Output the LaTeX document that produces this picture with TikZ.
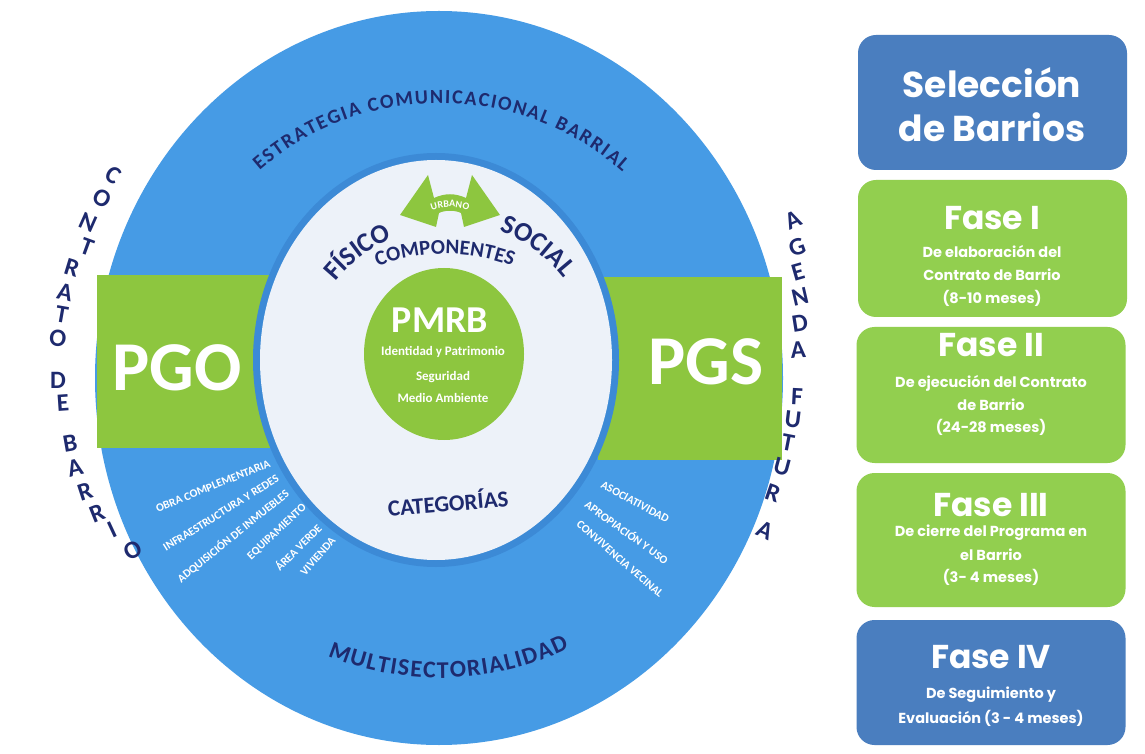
\documentclass[tikz,border=0pt]{standalone}
\usepackage{fontspec}
\setmainfont{Carlito}
\newfontfamily\popfont{Poppins}
\usetikzlibrary{decorations.text}
\definecolor{navy}{HTML}{1E2A6E}
\definecolor{mainblue}{HTML}{469BE5}
\definecolor{ringblue}{HTML}{3C8AD6}
\definecolor{pale}{HTML}{EDF2F9}
\definecolor{pgreen}{HTML}{8DC63F}
\definecolor{boxblue}{HTML}{4A7EBF}
\definecolor{boxgreen}{HTML}{92CF4F}
\newcommand\estfont{\fontsize{20}{20}\selectfont\bfseries\color{navy}}
\newcommand\multfont{\fontsize{24}{24}\selectfont\bfseries\color{navy}}
\newcommand\fisfont{\fontsize{27}{27}\selectfont\bfseries\color{navy}}
\newcommand\compfont{\fontsize{21}{21}\selectfont\bfseries\color{navy}}
\newcommand\urbfont{\fontsize{10}{10}\selectfont\bfseries\color{white}}
\begin{document}
\begin{tikzpicture}[x=1pt,y=1pt,
  sidelet/.style={text=navy, font=\fontsize{25}{25}\selectfont\bfseries, inner sep=0pt},
  listtext/.style={text=white, font=\fontsize{11.5}{11.5}\selectfont\bfseries, inner sep=0pt},
  bigtext/.style={text=white, font=\fontsize{70}{70}\selectfont\bfseries, inner sep=0pt},
  pmrbtext/.style={text=white, font=\fontsize{13}{13}\selectfont\bfseries, inner sep=0pt},
  bluebox/.style={fill=boxblue, rounded corners=18pt, minimum width=269pt, inner sep=0pt},
  greenbox/.style={fill=boxgreen, rounded corners=18pt, minimum width=269pt, inner sep=0pt},
  boxtitle/.style={text=white, font=\popfont\fontsize{33}{33}\selectfont\bfseries, inner sep=0pt},
  boxsub/.style={text=white, font=\popfont\fontsize{14.5}{14.5}\selectfont\bfseries, inner sep=0pt},
]
\fill[white] (0,0) rectangle (1145,753);
\useasboundingbox (0,0) rectangle (1145,753);

% outer ring
\fill[mainblue] (439,375) ellipse [x radius=344, y radius=367];
% green bands
\fill[pgreen] (97,305) rectangle (276,478);
\fill[pgreen] (598,293) rectangle (782,476);
% inner disc
\fill[ringblue] (436,393) ellipse [x radius=183, y radius=207];
\fill[pale] (436,393) ellipse [x radius=176, y radius=200];
% PMRB circle
\fill[pgreen] (444,399) ellipse [x radius=80, y radius=86];

% double arrow
\fill[pgreen] (400,538) -- (428,578) -- (434,555) .. controls (445,560) and (455,560) .. (466,555)
  -- (472,578) -- (500,538) -- (464,526) -- (461,540) .. controls (455,543) and (445,543) .. (439,540)
  -- (436,526) -- cycle;
\path[decorate, decoration={text along path, text align=center, text={|\urbfont|URBANO}}]
  (450,491) ++(125:55) arc[start angle=125, end angle=55, radius=55];

% curved texts
\path[decorate, decoration={text along path, text align={fit to path}, text={|\estfont|ESTRATEGIA COMUNICACIONAL BARRIAL}}]
  (440,375) ++(131:275) arc[start angle=131, end angle=48.5, radius=275];
\path[decorate, decoration={text along path, text align={fit to path}, text={|\multfont|MULTISECTORIALIDAD}}]
  (440,375) ++(248:300) arc[start angle=248, end angle=295.5, radius=300];
\path[decorate, decoration={text along path, text align=center, text={|\fisfont|FÍSICO}}]
  (445,383) ++(160:141) arc[start angle=160, end angle=93, radius=141];
\path[decorate, decoration={text along path, text align=center, text={|\fisfont|SOCIAL}}]
  (445,383) ++(87:150) arc[start angle=87, end angle=19.4, radius=150];
\path[decorate, decoration={text along path, text align=center, text={|\compfont|COMPONENTES}}]
  (445,307) ++(120:192) arc[start angle=120, end angle=60, radius=192];
\node[text=navy, font=\fontsize{23}{23}\selectfont\bfseries, inner sep=0pt, rotate=5] (cat) at (448,251) {CATEGORÍAS};

% PGO / PGS
\node[bigtext] (pgo) at (177,385) {PGO};
\node[bigtext] (pgs) at (706,391) {PGS};

% PMRB
\node[text=white, font=\fontsize{38}{38}\selectfont\bfseries, inner sep=0pt] (pmrb) at (440,433) {PMRB};
\node[pmrbtext] (p1) at (443,401) {Identidad y Patrimonio};
\node[pmrbtext] (p2) at (443,376) {Seguridad};
\node[pmrbtext] (p3) at (443,355) {Medio Ambiente};

% lists
\node[listtext, rotate=22] (l1) at (213,267) {OBRA COMPLEMENTARIA};
\node[listtext, rotate=32] (l2) at (221,240) {INFRAESTRUCTURA Y REDES};
\node[listtext, rotate=39] (l3) at (233,217) {ADQUISICIÓN DE INMUEBLES};
\node[listtext, rotate=43] (l4) at (277,221) {EQUIPAMIENTO};
\node[listtext, rotate=45] (l5) at (298,206) {ÁREA VERDE};
\node[listtext, rotate=49] (l6) at (318,197) {VIVIENDA};
\node[listtext, rotate=-28] (r1) at (635,251) {ASOCIATIVIDAD};
\node[listtext, rotate=-36] (r2) at (627,221) {APROPIACIÓN Y USO};
\node[listtext, rotate=-41] (r3) at (620,194) {CONVIVENCIA VECINAL};

% side letters
\foreach \t/\x/\y/\r [count=\i] in {C/113/578/-32, O/102/555/-28, N/88/531/-24, T/87/506/-20, R/72/485/-17, A/65/461/-13, T/62/438/-10, O/58/415/-6, D/58/373/0, E/63/350/4, B/70/310/10, A/75/285/14, R/85/261/18, R/97/240/22, I/112/223/25, O/133/203/29}
  \node[sidelet, rotate=\r] (cb\i) at (\x,\y) {\t};
\foreach \t/\x/\y/\r [count=\i] in {A/793/533/24, G/797/506/20, E/798/481/16, N/800/456/13, D/800/430/9, A/798/403/4, F/797/356/-3, U/793/333/-7, T/788/310/-11, U/782/286/-15, R/773/260/-19, A/765/223/-25}
  \node[sidelet, rotate=\r] (af\i) at (\x,\y) {\t};

% right boxes
\node[bluebox, minimum height=135pt] (b0) at (992.5,650.5) {};
\node[greenbox, minimum height=137pt] (b1) at (992.5,504.5) {};
\node[greenbox, minimum height=136pt] (b2) at (991,358) {};
\node[greenbox, minimum height=134pt] (b3) at (991,213) {};
\node[bluebox, minimum height=125pt] (b4) at (991,70.5) {};

\node[boxtitle, font=\popfont\fontsize{36}{36}\selectfont\bfseries] (t0a) at (992,670) {Selección};
\node[boxtitle, font=\popfont\fontsize{36}{36}\selectfont\bfseries] (t0b) at (992,626) {de Barrios};

\node[boxtitle] (t1) at (992,535) {Fase I};
\node[boxsub] (t1a) at (992,501) {De elaboración del};
\node[boxsub] (t1b) at (992,478) {Contrato de Barrio};
\node[boxsub] (t1c) at (992,455) {(8-10 meses)};

\node[boxtitle] (t2) at (991,408) {Fase II};
\node[boxsub] (t2a) at (991,370) {De ejecución del Contrato};
\node[boxsub] (t2b) at (991,348) {de Barrio};
\node[boxsub] (t2c) at (991,326) {(24-28 meses)};

\node[boxtitle] (t3) at (991,248) {Fase III};
\node[boxsub] (t3a) at (991,220) {De cierre del Programa en};
\node[boxsub] (t3b) at (991,198) {el Barrio};
\node[boxsub] (t3c) at (991,176) {(3- 4 meses)};

\node[boxtitle] (t4) at (991,96) {Fase IV};
\node[boxsub] (t4a) at (991,58) {De Seguimiento y};
\node[boxsub] (t4b) at (991,35) {Evaluación (3 - 4 meses)};
\end{tikzpicture}
\end{document}
